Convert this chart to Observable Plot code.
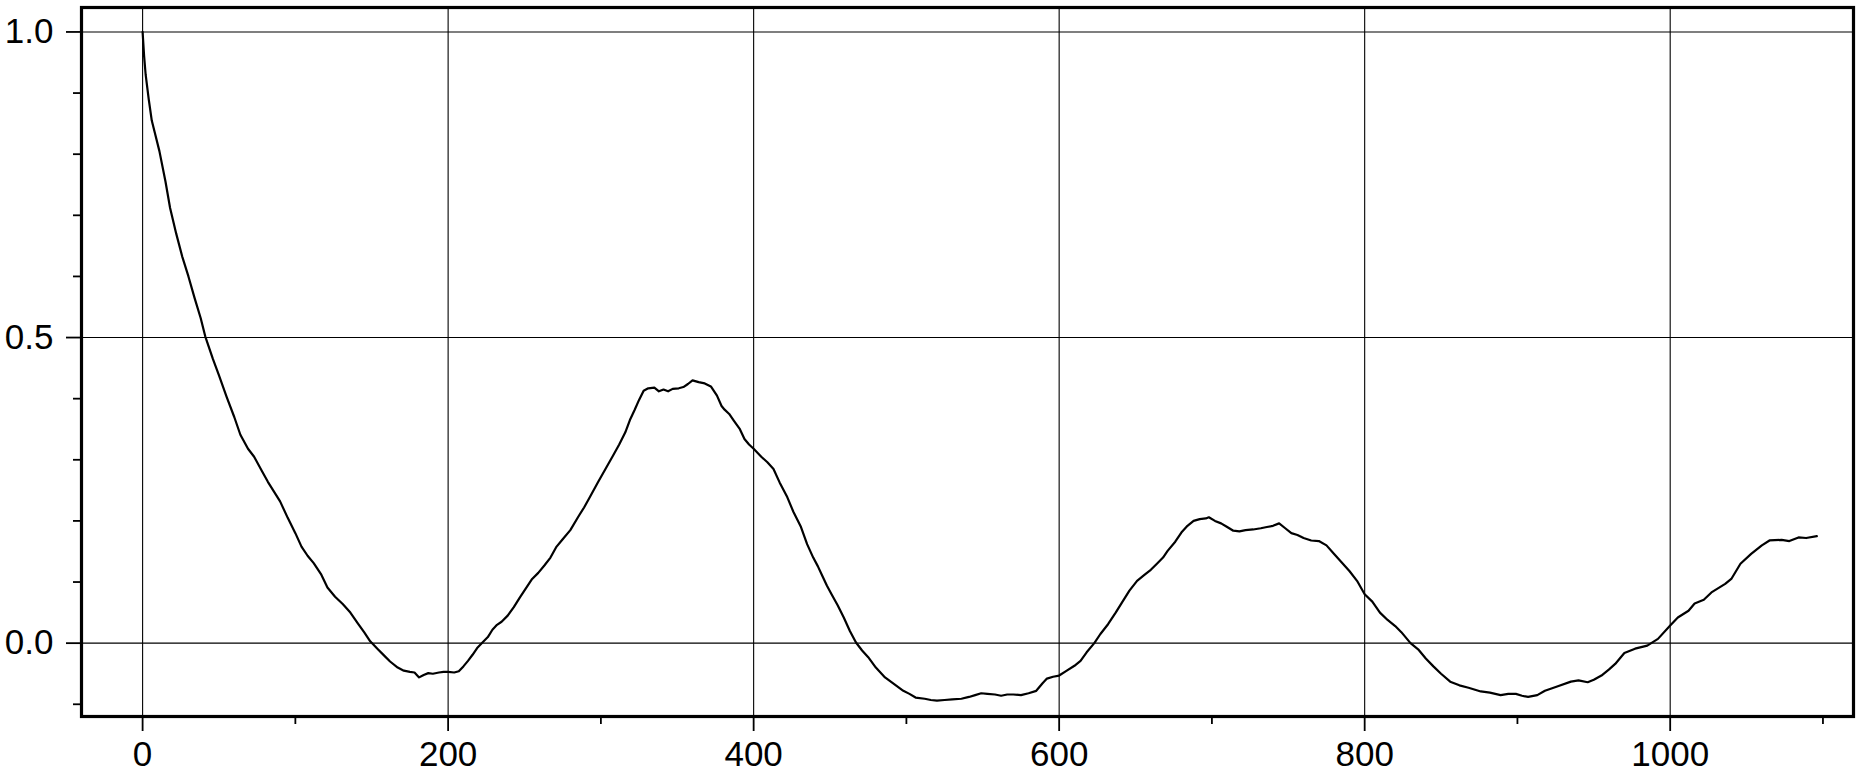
<!DOCTYPE html>
<html>
<head>
<meta charset="utf-8">
<script src="https://cdn.jsdelivr.net/npm/d3@7"></script>
<script src="https://cdn.jsdelivr.net/npm/@observablehq/plot@0.6"></script>
<style>
  html, body { margin: 0; padding: 0; background: white; }
  #chart svg { display: block; }
</style>
</head>
<body>
<div id="chart"></div>
<script>
const lag = [0,1,2,4,6,8,11,15,18,22,26,30,34,38,41,46,50,55,60,64,69,73,78,82,86,90,95,100,104,108,112,117,121,126,131,136,141,145,149,154,158,162,167,171,175,178,181,184,187,190,194,197,200,204,207,210,213,216,219,222,226,229,232,235,239,243,247,251,255,259,263,267,271,275,280,285,289,293,298,303,308,312,316,319,322,325,328,331,335,338,341,344,347,351,354,357,360,364,368,372,376,379,381,384,387,391,394,397,400,405,409,413,417,422,426,431,435,439,442,445,448,451,455,459,463,467,471,475,480,486,492,498,502,506,512,516,520,525,530,536,541,545,549,553,558,562,566,570,575,580,585,589,592,596,600,605,610,614,618,623,627,632,637,642,646,651,656,660,664,668,671,676,680,684,688,692,696,698,702,706,710,714,718,722,727,732,736,740,744,748,752,756,760,765,770,775,780,785,790,795,800,805,810,815,820,824,830,835,840,845,850,856,862,868,876,882,889,894,899,903,907,913,918,926,935,940,946,950,955,960,964,970,977,985,992,1000,1005,1012,1016,1022,1027,1036,1040,1046,1053,1060,1065,1073,1078,1084,1089,1096];
const acf = [1.000,0.960,0.930,0.890,0.855,0.835,0.805,0.755,0.712,0.670,0.632,0.600,0.565,0.532,0.502,0.465,0.438,0.403,0.370,0.341,0.318,0.305,0.282,0.264,0.248,0.232,0.205,0.180,0.158,0.143,0.131,0.112,0.091,0.076,0.064,0.050,0.032,0.018,0.003,-0.010,-0.020,-0.030,-0.040,-0.045,-0.047,-0.048,-0.056,-0.052,-0.049,-0.050,-0.048,-0.047,-0.047,-0.048,-0.046,-0.038,-0.029,-0.019,-0.008,0.000,0.010,0.022,0.030,0.035,0.045,0.059,0.075,0.090,0.105,0.115,0.127,0.140,0.158,0.170,0.185,0.206,0.222,0.240,0.263,0.285,0.307,0.325,0.345,0.365,0.381,0.398,0.413,0.417,0.418,0.412,0.415,0.412,0.416,0.417,0.419,0.424,0.430,0.427,0.425,0.420,0.405,0.388,0.382,0.375,0.364,0.350,0.334,0.325,0.318,0.305,0.296,0.285,0.263,0.239,0.215,0.190,0.162,0.140,0.126,0.110,0.094,0.080,0.062,0.042,0.020,0.001,-0.012,-0.023,-0.040,-0.056,-0.067,-0.078,-0.083,-0.089,-0.091,-0.093,-0.094,-0.093,-0.092,-0.091,-0.088,-0.085,-0.082,-0.083,-0.084,-0.086,-0.084,-0.084,-0.085,-0.082,-0.078,-0.066,-0.058,-0.055,-0.053,-0.045,-0.037,-0.029,-0.015,0.000,0.015,0.031,0.050,0.070,0.086,0.102,0.112,0.120,0.130,0.140,0.151,0.166,0.181,0.192,0.200,0.203,0.204,0.206,0.200,0.196,0.190,0.184,0.183,0.185,0.186,0.188,0.190,0.192,0.196,0.188,0.180,0.177,0.172,0.168,0.167,0.160,0.146,0.132,0.118,0.102,0.080,0.068,0.050,0.038,0.028,0.018,0.000,-0.010,-0.025,-0.038,-0.050,-0.063,-0.069,-0.073,-0.079,-0.081,-0.085,-0.083,-0.083,-0.086,-0.088,-0.085,-0.078,-0.071,-0.063,-0.061,-0.064,-0.060,-0.053,-0.043,-0.034,-0.016,-0.009,-0.004,0.007,0.029,0.042,0.053,0.065,0.071,0.083,0.097,0.105,0.130,0.146,0.160,0.168,0.169,0.167,0.173,0.172,0.175];

const xMajorTicks = [0, 200, 400, 600, 800, 1000];
const xMinorTicks = [100, 300, 500, 700, 900, 1100];
const yMajorTicks = [0, 0.5, 1.0];
const yMinorTicks = [-0.1, 0.1, 0.2, 0.3, 0.4, 0.6, 0.7, 0.8, 0.9];

const data = lag.map((x, i) => ({x, y: acf[i]}));

const chart = Plot.plot({
  width: 1860,
  height: 774,
  marginLeft: 81,
  marginRight: 7,
  marginTop: 7,
  marginBottom: 58,
  x: {domain: [-40, 1120], label: null},
  y: {domain: [-0.12, 1.04], label: null},
  style: {
    fontFamily: "'Liberation Sans', Arial, Helvetica, sans-serif",
    fontSize: "35px",
    color: "black",
    background: "white",
    overflow: "visible"
  },
  marks: [
    Plot.gridX(xMajorTicks, {stroke: "black", strokeOpacity: 1, strokeWidth: 1.1}),
    Plot.gridY(yMajorTicks, {stroke: "black", strokeOpacity: 1, strokeWidth: 1.1}),
    Plot.axisX(xMajorTicks, {tickSize: 15, tickPadding: 10, strokeWidth: 1.8, fontSize: 35, label: null, tickFormat: d => String(d)}),
    Plot.axisX(xMinorTicks, {tickSize: 8, strokeWidth: 1.8, label: null, tickFormat: () => ""}),
    Plot.axisY(yMajorTicks, {tickSize: 15, tickPadding: 13, strokeWidth: 1.8, fontSize: 35, label: null, tickFormat: d => d.toFixed(1)}),
    Plot.axisY(yMinorTicks, {tickSize: 8, strokeWidth: 1.8, label: null, tickFormat: () => ""}),
    Plot.line(data, {x: "x", y: "y", stroke: "black", strokeWidth: 2.2}),
    Plot.frame({stroke: "black", strokeWidth: 3.2})
  ]
});

document.getElementById("chart").appendChild(chart);
</script>
</body>
</html>
